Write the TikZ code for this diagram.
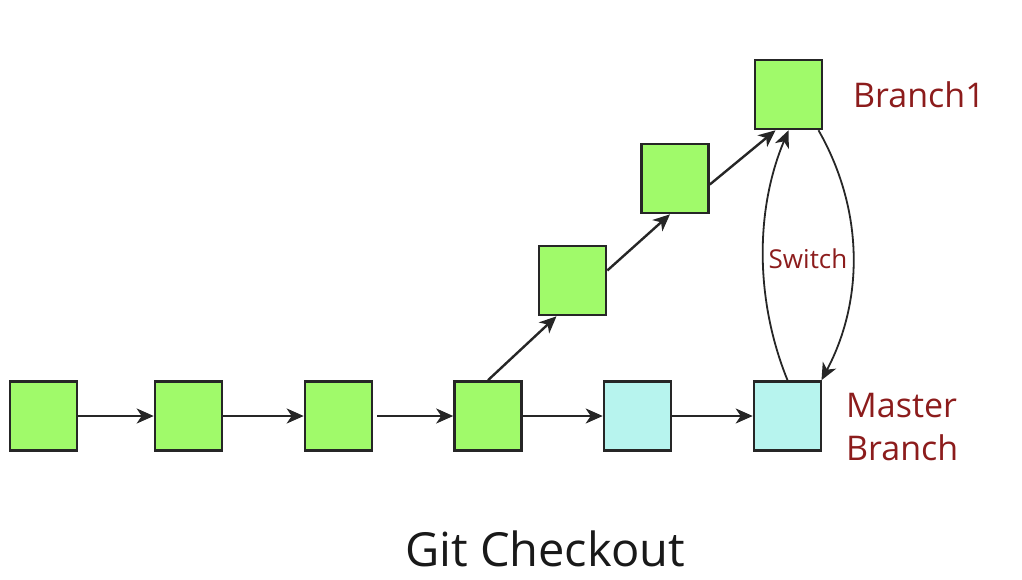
\documentclass[tikz,border=0pt]{standalone}
\usepackage{fontspec}
\setmainfont{Open Sans}
\usetikzlibrary{arrows.meta}
\definecolor{commitgreen}{RGB}{160,250,106}
\definecolor{commitcyan}{RGB}{183,244,238}
\definecolor{labelred}{RGB}{140,28,28}
\begin{document}
\begin{tikzpicture}[x=1pt,y=-1pt,
    commit/.style={draw=black!85, line width=2.6pt, fill=commitgreen, minimum width=67pt, minimum height=69pt, inner sep=0pt},
    headcommit/.style={commit, fill=commitcyan},
    link/.style={-{Stealth[length=17pt,width=15pt,inset=5pt]}, line width=2.4pt, black!85},
    branchlabel/.style={text=labelred, font=\fontsize{34}{43}\selectfont, align=left, inner sep=0pt}]
    \useasboundingbox (0,0) rectangle (1022,580);
    % master line
    \node[commit] (c1) at (43.5,416) {};
    \node[commit] (c2) at (188.5,416) {};
    \node[commit] (c3) at (338.5,416) {};
    \node[commit] (c4) at (488,416) {};
    \node[headcommit] (c5) at (637.5,416) {};
    \node[headcommit] (c6) at (787.5,416) {};
    % branch1 line
    \node[commit] (b1) at (572.5,280.5) {};
    \node[commit] (b2) at (675,178.5) {};
    \node[commit] (b3) at (788.5,94.5) {};
    \draw[link] (c1) -- (c2);
    \draw[link] (c2) -- (c3);
    \draw[link] ([xshift=4pt]c3.east) -- (c4);
    \draw[link] (c4) -- (c5);
    \draw[link] (c5) -- (c6);
    \draw[link] (c4.north) -- ([xshift=-16pt]b1.south);
    \draw[link] ([yshift=10pt]b1.east) -- ([xshift=-5pt]b2.south);
    \draw[link] ([yshift=-6pt]b2.east) -- ([xshift=-13pt]b3.south);
    % switch
    \draw[link, line width=1.8pt] (c6.north) .. controls (755,300) and (755,210) .. (b3.south);
    \draw[link, line width=1.8pt] ([xshift=30pt]b3.south) .. controls (864,210) and (864,300) .. ([xshift=34pt]c6.north);
    \node[text=labelred, font=\fontsize{26}{30}\selectfont, inner sep=0pt] (sw) at (808,259) {Switch};
    % labels
    \node[branchlabel, anchor=west] (lb1) at (853,95) {Branch1};
    \node[branchlabel, anchor=west] (lmaster) at (846,427) {Master\\Branch};
    \node[font=\fontsize{47}{52}\selectfont, text=black!90, inner sep=0pt] (title) at (545,549) {Git Checkout};
\end{tikzpicture}
\end{document}
